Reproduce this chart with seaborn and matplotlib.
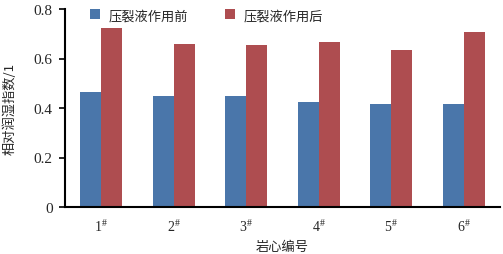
import pandas as pd
import matplotlib.pyplot as plt
import seaborn as sns

# values
cores = ["1", "2", "3", "4", "5", "6"]
before = [0.463, 0.447, 0.447, 0.424, 0.415, 0.415]
after = [0.722, 0.660, 0.653, 0.667, 0.636, 0.706]
series_names = ["压裂液作用前", "压裂液作用后"]
y_ticks = [0, 0.2, 0.4, 0.6, 0.8]
y_tick_labels = ["0", "0.2", "0.4", "0.6", "0.8"]

df = pd.DataFrame({
    "core": cores * 2,
    "value": before + after,
    "state": [series_names[0]] * len(cores) + [series_names[1]] * len(cores),
})

sns.set_style("white")
plt.rcParams["font.family"] = ["Liberation Serif", "Noto Sans CJK SC"]
plt.rcParams["mathtext.default"] = "regular"

fig = plt.figure(figsize=(5.03, 2.55), dpi=100)
ax = fig.add_axes([65 / 503, 1 - 208 / 255, 435 / 503, 198 / 255])

sns.barplot(data=df, x="core", y="value", hue="state", ax=ax,
            palette=["#4A76AA", "#AE4D50"], width=0.58, gap=0,
            saturation=1, linewidth=0)

ax.set_xlim(-0.5, len(cores) - 0.5)
ax.set_ylim(0, 0.8)
ax.set_yticks(y_ticks)
ax.set_yticklabels(y_tick_labels, fontsize=11)

# labels at centers, tick marks at group boundaries
ax.set_xticks(range(len(cores)))
ax.set_xticklabels([r"$%s^{\#}$" % c for c in cores], fontsize=10)
ax.set_xticks([i - 0.5 for i in range(len(cores) + 1)], minor=True)
ax.tick_params(axis="x", which="major", length=0, pad=8)
ax.tick_params(axis="x", which="minor", length=4, width=1.2, direction="out", color="black")
ax.tick_params(axis="y", length=4, width=1.2, direction="out", color="black", left=True, pad=5)

for side in ["top", "right"]:
    ax.spines[side].set_visible(False)
for side in ["left", "bottom"]:
    ax.spines[side].set_color("black")
    ax.spines[side].set_linewidth(1.5)

ax.set_xlabel("岩心编号", fontsize=9.5, family=["Noto Sans CJK SC"], labelpad=4)
ax.set_ylabel("相对润湿指数/1", fontsize=9.5, family=["Noto Sans CJK SC"], labelpad=12)

ax.legend(loc="upper left", bbox_to_anchor=(0.03, 1.06), ncol=2, frameon=False,
          prop={"family": "Noto Sans CJK SC", "size": 9.5}, handlelength=0.8,
          handleheight=0.8, columnspacing=2.8, handletextpad=0.6)

fig.savefig("out.png", dpi=100)
